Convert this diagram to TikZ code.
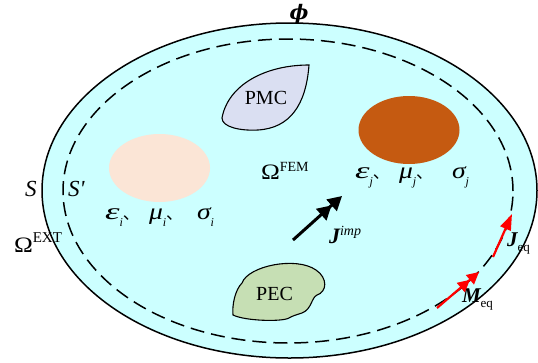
\documentclass[tikz,border=0pt]{standalone}
\usepackage{fontspec}
\setmainfont{Liberation Serif}
\newfontfamily\cjk{Noto Sans CJK SC}
\newfontfamily\dvserif{DejaVu Serif}
\usepackage{graphicx}
\usetikzlibrary{arrows.meta}
\definecolor{bgcyan}{HTML}{CCFFFF}
\definecolor{pmcfill}{HTML}{DADFF2}
\definecolor{pecfill}{HTML}{C6DFB4}
\definecolor{peach}{HTML}{FBE5D6}
\definecolor{rust}{HTML}{C55A11}
\newcommand{\gk}[2][1.2]{\scalebox{#1}[1]{\fontsize{23}{23}\selectfont\itshape #2}}
\newcommand{\gsub}[1]{\raisebox{-7pt}{\fontsize{12}{12}\selectfont\itshape #1}}
\newcommand{\dun}{{\cjk\fontsize{17}{17}\selectfont 、}}
\newcommand{\bigOmega}{\scalebox{1.15}[1]{\fontsize{22}{22}\selectfont Ω}}
\begin{document}
\begin{tikzpicture}[x=1pt,y=-1pt,
  boundary/.style={line width=1.5pt,draw=black},
  innerbound/.style={line width=1.5pt,draw=black,dash pattern=on 14pt off 7pt},
  blob/.style={line width=1.1pt,draw=black},
  lbl/.style={anchor=base west,inner sep=0pt,outer sep=0pt},
  shapetext/.style={inner sep=0pt,font=\fontsize{20}{20}\selectfont},
  impArrow/.style={line width=3pt,-{Triangle[length=14pt,width=15pt]Triangle[length=14pt,width=15pt]}},
  eqArrowM/.style={red,line width=2.2pt,-{Triangle[length=12pt,width=12pt]Triangle[length=12pt,width=12pt]}},
  eqArrowJ/.style={red,line width=2.2pt,-{Triangle[length=16pt,width=11pt]}}
]
\useasboundingbox (0,0) rectangle (538,362);
% domains
\draw[boundary,fill=bgcyan] (289.5,190.5) ellipse [x radius=247.5pt,y radius=167.5pt];
\draw[innerbound] (288,191) ellipse [x radius=225pt,y radius=152pt];
% material regions
\fill[peach] (159.5,168) ellipse [x radius=50.5pt,y radius=34pt];
\fill[rust] (409,130) ellipse [x radius=50.5pt,y radius=34pt];
% PMC
\draw[blob,fill=pmcfill] (309,65) .. controls (265,65) and (228,85) .. (222,118)
  .. controls (222,127) and (240,131) .. (258,130)
  .. controls (290,128) and (306,105) .. (309,65) -- cycle;
\node[shapetext] (pmc) at (266,98) {PMC};
% PEC
\draw[blob,fill=pecfill] (242,283) .. controls (248,266) and (296,256) .. (316,270)
  .. controls (328,278) and (327,292) .. (317,295)
  .. controls (311,298) and (312,309) .. (302,313)
  .. controls (296,315) and (292,316) .. (289,318)
  .. controls (282,322) and (245,321) .. (233,315)
  .. controls (232,305) and (235,290) .. (242,283) -- cycle;
\node[shapetext] (pec) at (274.5,294) {PEC};
% labels
\node[inner sep=0pt] (phi) at (299,14) {\dvserif\fontsize{20}{20}\selectfont\bfseries\itshape ϕ};
\node[lbl] (S) at (25,196) {\fontsize{23}{23}\selectfont\itshape S};
\node[lbl] (Sp) at (68,196) {\fontsize{23}{23}\selectfont\itshape S\textquotesingle};
\node[lbl] (omext) at (14,252) {\bigOmega\raisebox{10pt}{\fontsize{15}{15}\selectfont EXT}};
\node[lbl] (omfem) at (261,179) {\bigOmega\raisebox{8pt}{\fontsize{14}{14}\selectfont FEM}};
\node[lbl] (epsi) at (105,219) {\gk[1.6]{ε}\gsub{i}\dun};
\node[lbl] (mui) at (149,219) {\gk{μ}\gsub{i}\dun};
\node[lbl] (sigi) at (197,219) {\gk{σ}\gsub{i}};
\node[lbl] (epsj) at (355,178) {\gk[1.6]{ε}\gsub{j}\dun};
\node[lbl] (muj) at (399,178) {\gk{μ}\gsub{j}\dun};
\node[lbl] (sigj) at (452,178) {\gk{σ}\gsub{j}};
\node[lbl] (jimp) at (329,243) {\fontsize{22}{22}\selectfont\bfseries\itshape J\raisebox{8pt}{\fontsize{14}{14}\selectfont\mdseries\itshape imp}};
\node[lbl] (jeq) at (507,246) {\fontsize{21}{21}\selectfont\bfseries\itshape J\raisebox{-5pt}{\fontsize{13}{13}\selectfont\mdseries\upshape eq}};
\node[lbl] (meq) at (462,302) {\fontsize{21}{21}\selectfont\bfseries\itshape M\raisebox{-5pt}{\fontsize{13}{13}\selectfont\mdseries\upshape eq}};
% arrows
\coordinate (impS) at (293,240);
\coordinate (impE) at (342,196);
\draw[impArrow] (impS) -- (impE);
\coordinate (mS) at (437,308);
\coordinate (mE) at (479,272);
\draw[eqArrowM] (mS) -- (mE);
\coordinate (jS) at (493,257);
\coordinate (jE) at (512,214);
\draw[eqArrowJ] (jS) -- (jE);
\end{tikzpicture}
\end{document}
